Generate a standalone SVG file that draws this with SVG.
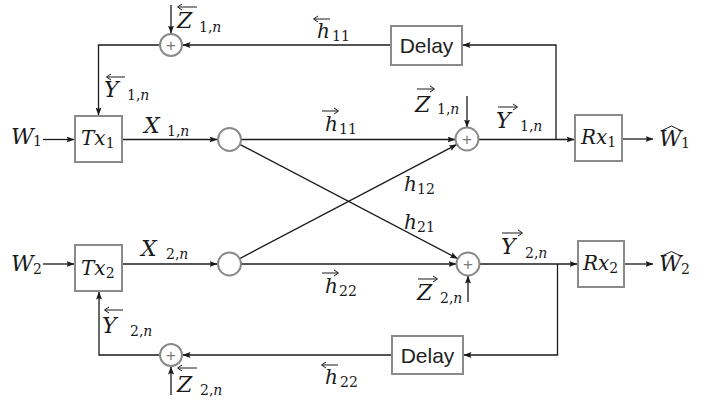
<svg xmlns="http://www.w3.org/2000/svg" width="709" height="401" viewBox="0 0 709 401">
<style>
.box{fill:#fff;stroke:#8a8a8a;stroke-width:2}
.circ{fill:#fff;stroke:#8a8a8a;stroke-width:2}
.plus{font-family:"Liberation Sans",Arial,sans-serif;font-size:17px;fill:#7a7a7a;text-anchor:middle}
.w{fill:none;stroke:#1a1a1a;stroke-width:1.3}
.m{font-family:"DejaVu Serif","Liberation Serif",serif;font-style:italic;font-size:22px;fill:#1a1a1a}
.b{font-size:20px}
.h{font-size:20px}
.s{font-size:14px;font-style:normal}
.si{font-size:14px;font-style:italic}
.acc{fill:none;stroke:#1a1a1a;stroke-width:1}
.dl{font-family:"Liberation Sans",Arial,sans-serif;font-size:21px;fill:#222;text-anchor:middle}
</style>
<defs>
<marker id="ah" markerWidth="8" markerHeight="6" refX="7.5" refY="3" orient="auto" markerUnits="userSpaceOnUse">
<path d="M0,0 L8,3 L0,6 L1.5,3 z" fill="#1a1a1a"/>
</marker>
</defs>
<rect width="709" height="401" fill="#fff"/>
<g id="connectors">
<path class="w" d="M43,139.5 H74" marker-end="url(#ah)"/>
<path class="w" d="M122,139.5 H217" marker-end="url(#ah)"/>
<path class="w" d="M241,139.5 H455" marker-end="url(#ah)"/>
<path class="w" d="M239.7,144.3 L457.5,258.5" marker-end="url(#ah)"/>
<path class="w" d="M239.7,258.6 L456.6,144.6" marker-end="url(#ah)"/>
<path class="w" d="M478.5,139.5 H574" marker-end="url(#ah)"/>
<path class="w" d="M622,139 H653" marker-end="url(#ah)"/>
<path class="w" d="M556,139.5 V45 H463" marker-end="url(#ah)"/>
<path class="w" d="M391,45 H183" marker-end="url(#ah)"/>
<path class="w" d="M159.5,45 H98.5 V115" marker-end="url(#ah)"/>
<path class="w" d="M171,5 V33" marker-end="url(#ah)"/>
<path class="w" d="M467,96 V127" marker-end="url(#ah)"/>
<path class="w" d="M43,264 H74" marker-end="url(#ah)"/>
<path class="w" d="M122,264 H217" marker-end="url(#ah)"/>
<path class="w" d="M241,264 H456" marker-end="url(#ah)"/>
<path class="w" d="M479.5,264 H577" marker-end="url(#ah)"/>
<path class="w" d="M624,264 H653" marker-end="url(#ah)"/>
<path class="w" d="M557.5,264 V355 H464" marker-end="url(#ah)"/>
<path class="w" d="M392,355 H183" marker-end="url(#ah)"/>
<path class="w" d="M160,355 H99 V292" marker-end="url(#ah)"/>
<path class="w" d="M171,395 V367" marker-end="url(#ah)"/>
<path class="w" d="M468,302 V276" marker-end="url(#ah)"/>
</g>
<g id="tx1"><rect class="box" x="75" y="116" width="47" height="46"/><text class="m b" x="81" y="145">Tx<tspan class="s" dy="3">1</tspan></text></g>
<g id="tx2"><rect class="box" x="75" y="245" width="47" height="46"/><text class="m b" x="81" y="275">Tx<tspan class="s" dy="3">2</tspan></text></g>
<g id="rx1"><rect class="box" x="575" y="115" width="47" height="46"/><text class="m b" x="581" y="144">Rx<tspan class="s" dy="3">1</tspan></text></g>
<g id="rx2"><rect class="box" x="578" y="241" width="46" height="46"/><text class="m b" x="583" y="270">Rx<tspan class="s" dy="3">2</tspan></text></g>
<g id="delay1"><rect class="box" x="391" y="26" width="71" height="39"/><text class="dl" x="426.5" y="53">Delay</text></g>
<g id="delay2"><rect class="box" x="392" y="336" width="71" height="38"/><text class="dl" x="427.5" y="362.5">Delay</text></g>
<g id="c1"><circle class="circ" cx="229.5" cy="139.5" r="11.5"/></g>
<g id="c2"><circle class="circ" cx="229.5" cy="264" r="11.5"/></g>
<g id="sumL1"><circle class="circ" cx="171" cy="45" r="11"/><text class="plus" x="171" y="51">+</text></g>
<g id="sumL2"><circle class="circ" cx="171" cy="355" r="11"/><text class="plus" x="171" y="361">+</text></g>
<g id="sumR1"><circle class="circ" cx="467" cy="139" r="11.5"/><text class="plus" x="467" y="145">+</text></g>
<g id="sumR2"><circle class="circ" cx="468" cy="264" r="11.5"/><text class="plus" x="468" y="270">+</text></g>
<g id="labels">
<text class="m" x="177" y="28">Z<tspan class="s" x="199" y="32">1,</tspan><tspan class="si">n</tspan></text>
<path class="acc" d="M197,7 H178 M182,4 L177.5,7 L182,10"/>
<text class="m h" x="317" y="38">h<tspan class="s" x="332" y="41">11</tspan></text>
<path class="acc" d="M330,19 H314 M318,16 L313.5,19 L318,22"/>
<text class="m" x="104" y="97">Y<tspan class="s" x="127" y="100">1,</tspan><tspan class="si">n</tspan></text>
<path class="acc" d="M125,77 H107 M111,74 L106.5,77 L111,80"/>
<text class="m" x="11" y="143.5">W<tspan class="s" x="33" y="146">1</tspan></text>
<text class="m" x="144" y="133">X<tspan class="s" x="167" y="136">1,</tspan><tspan class="si">n</tspan></text>
<text class="m h" x="325" y="131">h<tspan class="s" x="339" y="134">11</tspan></text>
<path class="acc" d="M322,111 H338 M334,108 L338.5,111 L334,114"/>
<text class="m" x="415" y="112">Z<tspan class="s" x="437" y="114">1,</tspan><tspan class="si">n</tspan></text>
<path class="acc" d="M417,89 H434 M430,86 L434.5,89 L430,92"/>
<text class="m" x="496" y="128">Y<tspan class="s" x="520" y="131">1,</tspan><tspan class="si">n</tspan></text>
<path class="acc" d="M498,107 H517 M513,104 L517.5,107 L513,110"/>
<text class="m" x="659" y="145.5">W<tspan class="s" x="681" y="148">1</tspan></text>
<path class="acc" d="M661,131 L671.5,126 L682,131"/>
<text class="m h" x="404" y="191">h<tspan class="s" x="417" y="194">12</tspan></text>
<text class="m h" x="404" y="229">h<tspan class="s" x="417" y="232">21</tspan></text>
<text class="m" x="141" y="256">X<tspan class="s" x="166" y="259">2,</tspan><tspan class="si">n</tspan></text>
<text class="m" x="11" y="271">W<tspan class="s" x="33" y="274">2</tspan></text>
<text class="m" x="501" y="254">Y<tspan class="s" x="525" y="258">2,</tspan><tspan class="si">n</tspan></text>
<path class="acc" d="M502,233 H522 M518,230 L522.5,233 L518,236"/>
<text class="m" x="659" y="271">W<tspan class="s" x="681" y="274">2</tspan></text>
<path class="acc" d="M661,256.5 L671.5,251.5 L682,256.5"/>
<text class="m h" x="325" y="293">h<tspan class="s" x="339" y="296">22</tspan></text>
<path class="acc" d="M322,273 H338 M334,270 L338.5,273 L334,276"/>
<text class="m" x="417" y="300">Z<tspan class="s" x="440" y="303">2,</tspan><tspan class="si">n</tspan></text>
<path class="acc" d="M418,279 H437 M433,276 L437.5,279 L433,282"/>
<text class="m" x="102" y="333">Y<tspan class="s" x="130" y="336">2,</tspan><tspan class="si">n</tspan></text>
<path class="acc" d="M123,310 H105 M109,307 L104.5,310 L109,313"/>
<text class="m" x="177" y="392">Z<tspan class="s" x="200" y="395">2,</tspan><tspan class="si">n</tspan></text>
<path class="acc" d="M197,368 H178 M182,365 L177.5,368 L182,371"/>
<text class="m h" x="325" y="384">h<tspan class="s" x="340" y="387">22</tspan></text>
<path class="acc" d="M338,365 H322 M326,362 L321.5,365 L326,368"/>
</g>
</svg>
